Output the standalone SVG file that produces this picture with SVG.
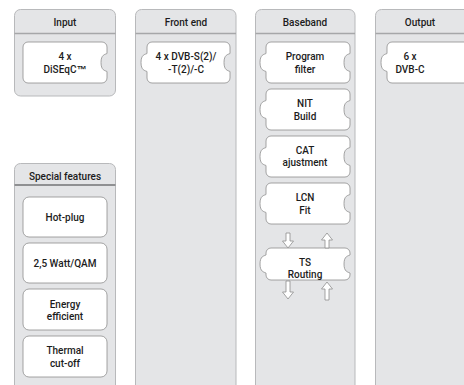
<svg xmlns="http://www.w3.org/2000/svg" xmlns:xlink="http://www.w3.org/1999/xlink" width="464" height="385" viewBox="0 0 464 385">
<style>
.panel{fill:#e4e5e7;stroke:#b8b9bb;stroke-width:1}
.sep{stroke:#a6a7a9;stroke-width:1.5}
.sep2{stroke:#8f9092;stroke-width:2}
.box{fill:#ffffff;stroke:#8e8e8e;stroke-width:0.8}
.arr{fill:#ffffff;stroke:#8e8e8e;stroke-width:0.8;stroke-linejoin:miter}
text{font-family:Roboto,"Liberation Sans",Arial,sans-serif;font-weight:500;font-size:10px;fill:#1c1c1c;text-anchor:middle}
.tm{font-family:"Liberation Sans",Arial,sans-serif;font-weight:700}
</style>
<defs>
<path id="dn15" d="M-2,0 h4 v8 h3.5 l-5.5,7 l-5.5,-7 h3.5 z"/>
<path id="up15" d="M0,0 l5.5,7 h-3.5 v8 h-4 v-8 h-3.5 z"/>
<path id="dn18" d="M-2,0 h4 v11 h3.5 l-5.5,7 l-5.5,-7 h3.5 z"/>
<path id="up18" d="M0,0 l5.5,7 h-3.5 v11 h-4 v-11 h-3.5 z"/>
</defs>
<rect width="464" height="385" fill="#ffffff"/>

<g id="panel-input">
<rect class="panel" x="14.5" y="9.5" width="101" height="86.5" rx="6"/>
<line class="sep" x1="14.5" y1="33.5" x2="115.5" y2="33.5"/>
<text x="65" y="25.5">Input</text>
</g>
<g id="panel-frontend">
<rect class="panel" x="135.5" y="9.5" width="100.5" height="400" rx="6"/>
<line class="sep" x1="135.5" y1="33.5" x2="236" y2="33.5"/>
<text x="186" y="25.5">Front end</text>
</g>
<g id="panel-baseband">
<rect class="panel" x="255.5" y="9.5" width="99.5" height="400" rx="6"/>
<line class="sep" x1="255.5" y1="33.5" x2="355" y2="33.5"/>
<text x="305" y="25.5">Baseband</text>
</g>
<g id="panel-output">
<rect class="panel" x="375.5" y="9.5" width="110" height="400" rx="6"/>
<line class="sep" x1="375.5" y1="33.5" x2="485" y2="33.5"/>
<text x="420" y="25.5">Output</text>
</g>
<g id="panel-special">
<rect class="panel" x="14.5" y="163.5" width="101" height="240" rx="6"/>
<line class="sep2" x1="14.5" y1="185" x2="115.5" y2="185"/>
<text x="65" y="179.5">Special features</text>
</g>

<g id="node-diseqc">
<path class="box" d="M28,42 h74 a5,5 0 0 1 5,5 v6.5 c-2,1 -6,1 -6,9 c0,8 4,8 6,9 v6.5 a5,5 0 0 1 -5,5 h-74 a5,5 0 0 1 -5,-5 v-31 a5,5 0 0 1 5,-5 z"/>
<text x="65" y="60">4 x</text>
<text x="65" y="72.5">DiSEqC<tspan class="tm">™</tspan></text>
</g>
<g id="node-dvb-frontend">
<path class="box" d="M152,42 h73 a5,5 0 0 1 5,5 v6.5 c-2,1 -6,1 -6,9 c0,8 4,8 6,9 v6.5 a5,5 0 0 1 -5,5 h-73 a5,5 0 0 1 -5,-5 v-6.5 c-2,-1 -6,-1 -6,-9 c0,-8 4,-8 6,-9 v-6.5 a5,5 0 0 1 5,-5 z"/>
<text x="186" y="60">4 x DVB-S(2)/</text>
<text x="186" y="72.5">-T(2)/-C</text>
</g>
<g id="node-program-filter">
<path class="box" d="M271,42 h74 a5,5 0 0 1 5,5 v6.5 c-2,1 -6,1 -6,9 c0,8 4,8 6,9 v6.5 a5,5 0 0 1 -5,5 h-74 a5,5 0 0 1 -5,-5 v-6.5 c-2,-1 -6,-1 -6,-9 c0,-8 4,-8 6,-9 v-6.5 a5,5 0 0 1 5,-5 z"/>
<text x="305" y="60">Program</text>
<text x="305" y="73">filter</text>
</g>
<g id="node-nit-build">
<path class="box" d="M271,89 h74 a5,5 0 0 1 5,5 v6.5 c-2,1 -6,1 -6,9 c0,8 4,8 6,9 v6.5 a5,5 0 0 1 -5,5 h-74 a5,5 0 0 1 -5,-5 v-6.5 c-2,-1 -6,-1 -6,-9 c0,-8 4,-8 6,-9 v-6.5 a5,5 0 0 1 5,-5 z"/>
<text x="305" y="107">NIT</text>
<text x="305" y="120">Build</text>
</g>
<g id="node-cat">
<path class="box" d="M271,136 h74 a5,5 0 0 1 5,5 v6.5 c-2,1 -6,1 -6,9 c0,8 4,8 6,9 v6.5 a5,5 0 0 1 -5,5 h-74 a5,5 0 0 1 -5,-5 v-6.5 c-2,-1 -6,-1 -6,-9 c0,-8 4,-8 6,-9 v-6.5 a5,5 0 0 1 5,-5 z"/>
<text x="305" y="154">CAT</text>
<text x="305" y="166">ajustment</text>
</g>
<g id="node-lcn">
<path class="box" d="M271,183 h74 a5,5 0 0 1 5,5 v6.5 c-2,1 -6,1 -6,9 c0,8 4,8 6,9 v6.5 a5,5 0 0 1 -5,5 h-74 a5,5 0 0 1 -5,-5 v-6.5 c-2,-1 -6,-1 -6,-9 c0,-8 4,-8 6,-9 v-6.5 a5,5 0 0 1 5,-5 z"/>
<text x="305" y="201">LCN</text>
<text x="305" y="214">Fit</text>
</g>
<g id="node-ts-routing">
<path class="box" d="M271,248 h74 a5,5 0 0 1 5,5 v2 c-2,1 -6,1 -6,9 c0,8 4,8 6,9 v2 a5,5 0 0 1 -5,5 h-74 a5,5 0 0 1 -5,-5 v-2 c-2,-1 -6,-1 -6,-9 c0,-8 4,-8 6,-9 v-2 a5,5 0 0 1 5,-5 z"/>
<text x="305" y="265.5">TS</text>
<text x="305" y="277.5">Routing</text>
</g>
<g id="node-dvbc-output">
<path class="box" d="M392,42 h80 a5,5 0 0 1 5,5 v31 a5,5 0 0 1 -5,5 h-80 a5,5 0 0 1 -5,-5 v-6.5 c-2,-1 -6,-1 -6,-9 c0,-8 4,-8 6,-9 v-6.5 a5,5 0 0 1 5,-5 z"/>
<text x="410" y="60">6 x</text>
<text x="410" y="72.5">DVB-C</text>
</g>

<g id="node-hotplug">
<rect class="box" x="23" y="197" width="84" height="40" rx="6"/>
<text x="65" y="220.5">Hot-plug</text>
</g>
<g id="node-watt">
<rect class="box" x="23" y="243" width="84" height="40" rx="6"/>
<text x="65" y="266.5">2,5 Watt/QAM</text>
</g>
<g id="node-energy">
<rect class="box" x="23" y="289" width="84" height="41" rx="6"/>
<text x="65" y="307.5">Energy</text>
<text x="65" y="320">efficient</text>
</g>
<g id="node-thermal">
<rect class="box" x="23" y="336" width="84" height="41" rx="6"/>
<text x="65" y="354">Thermal</text>
<text x="65" y="366.5">cut-off</text>
</g>

<g id="connectors">
<use xlink:href="#dn15" href="#dn15" class="arr" x="288" y="233"/>
<use xlink:href="#up15" href="#up15" class="arr" x="327" y="233"/>
<use xlink:href="#dn18" href="#dn18" class="arr" x="288" y="281"/>
<use xlink:href="#up18" href="#up18" class="arr" x="327" y="282"/>
</g>
</svg>
